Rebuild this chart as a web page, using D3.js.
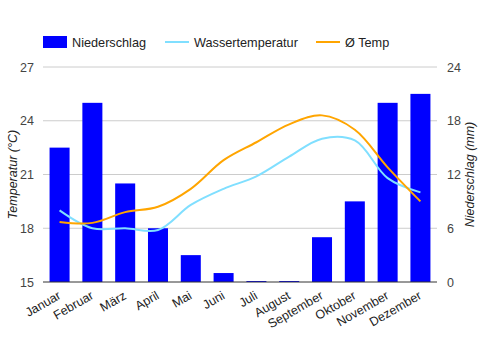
<!DOCTYPE html>
<html>
<head>
<meta charset="utf-8">
<title>Klima</title>
<script src="https://cdn.jsdelivr.net/npm/d3@7/dist/d3.min.js"></script>
<style>
  body { margin: 0; background: #fff; }
  svg { font-family: Arial, "Liberation Sans", sans-serif; }
</style>
</head>
<body>
<svg id="chart" width="481" height="350"></svg>
<script>
// values
var months = ["Januar", "Februar", "März", "April", "Mai", "Juni", "Juli", "August", "September", "Oktober", "November", "Dezember"];
var niederschlag = [15, 20, 11, 6, 3, 1, 0, 0, 5, 9, 20, 21];
var wasserTemp = [19.0, 18.0, 18.0, 17.9, 19.3, 20.2, 20.9, 22.0, 23.0, 22.9, 20.8, 20.0];
var avgTemp = [18.35, 18.3, 18.9, 19.2, 20.2, 21.8, 22.8, 23.8, 24.3, 23.5, 21.4, 19.5];
var tempTicks = [15, 18, 21, 24, 27];
var rainTicks = [0, 6, 12, 18, 24];

var margin = { top: 67, right: 44, bottom: 68, left: 43 };
var width = 481, height = 350;

var svg = d3.select("#chart");

var x = d3.scaleBand()
  .domain(months)
  .range([margin.left, width - margin.right])
  .paddingInner(0.39)
  .paddingOuter(0.2);

var yT = d3.scaleLinear().domain([15, 27]).range([height - margin.bottom, margin.top]);
var yR = d3.scaleLinear().domain([0, 24]).range([height - margin.bottom, margin.top]);

// gridlines
svg.append("g")
  .selectAll("line")
  .data(tempTicks.slice(1))
  .join("line")
  .attr("x1", margin.left)
  .attr("x2", width - margin.right)
  .attr("y1", d => yT(d))
  .attr("y2", d => yT(d))
  .attr("stroke", "#cccccc");

// left axis
svg.append("g")
  .attr("transform", `translate(${margin.left - 6},0)`)
  .call(d3.axisLeft(yT).tickValues(tempTicks).tickSize(0))
  .call(g => g.select(".domain").remove())
  .call(g => g.selectAll("text").attr("fill", "#444").attr("font-size", 12.5).attr("font-family", "Arial, 'Liberation Sans', sans-serif"));

// right axis
svg.append("g")
  .attr("transform", `translate(${width - margin.right + 7},0)`)
  .call(d3.axisRight(yR).tickValues(rainTicks).tickSize(0))
  .call(g => g.select(".domain").remove())
  .call(g => g.selectAll("text").attr("fill", "#444").attr("font-size", 12.5).attr("font-family", "Arial, 'Liberation Sans', sans-serif"));

// bars
svg.append("g")
  .selectAll("rect")
  .data(niederschlag)
  .join("rect")
  .attr("x", (d, i) => x(months[i]))
  .attr("width", x.bandwidth())
  .attr("y", d => Math.min(yR(d), yR(0) - 1))
  .attr("height", d => Math.max(yR(0) - yR(d), 1))
  .attr("fill", "#0000ff");

// baseline
svg.append("line")
  .attr("x1", margin.left)
  .attr("x2", width - margin.right)
  .attr("y1", yT(15))
  .attr("y2", yT(15))
  .attr("stroke", "#333");

var cx = i => x(months[i]) + x.bandwidth() / 2;

var line = d3.line()
  .x((d, i) => cx(i))
  .y(d => yT(d))
  .curve(d3.curveCatmullRom.alpha(0.5));

svg.append("path")
  .datum(wasserTemp)
  .attr("fill", "none")
  .attr("stroke", "#80dfff")
  .attr("stroke-width", 2)
  .attr("d", line);

svg.append("path")
  .datum(avgTemp)
  .attr("fill", "none")
  .attr("stroke", "#ffa500")
  .attr("stroke-width", 2)
  .attr("d", line);

// x labels
svg.append("g")
  .selectAll("text")
  .data(months)
  .join("text")
  .attr("transform", d => `translate(${x(d) + x.bandwidth() / 2 + 2},${height - margin.bottom + 16}) rotate(-30)`)
  .attr("text-anchor", "end")
  .attr("font-size", 12.5)
  .attr("fill", "#222")
  .text(d => d);

// axis titles
svg.append("text")
  .attr("transform", `translate(17,${(yT(15) + yT(27)) / 2}) rotate(-90)`)
  .attr("text-anchor", "middle")
  .attr("font-size", 12.5)
  .attr("font-style", "italic")
  .attr("fill", "#222")
  .text("Temperatur (°C)");

svg.append("text")
  .attr("transform", `translate(474,${(yT(15) + yT(27)) / 2}) rotate(-90)`)
  .attr("text-anchor", "middle")
  .attr("font-size", 12.5)
  .attr("font-style", "italic")
  .attr("fill", "#222")
  .text("Niederschlag (mm)");

// legend
var legend = svg.append("g").attr("font-size", 12.7).attr("fill", "#222");
legend.append("rect").attr("x", 43).attr("y", 36).attr("width", 24).attr("height", 12).attr("fill", "#0000ff");
legend.append("text").attr("x", 72).attr("y", 46.5).text("Niederschlag");
legend.append("line").attr("x1", 165).attr("x2", 189).attr("y1", 42).attr("y2", 42).attr("stroke", "#80dfff").attr("stroke-width", 2);
legend.append("text").attr("x", 194).attr("y", 46.5).text("Wassertemperatur");
legend.append("line").attr("x1", 316).attr("x2", 340).attr("y1", 42).attr("y2", 42).attr("stroke", "#ffa500").attr("stroke-width", 2);
legend.append("text").attr("x", 345).attr("y", 46.5).text("Ø Temp");
</script>
</body>
</html>
